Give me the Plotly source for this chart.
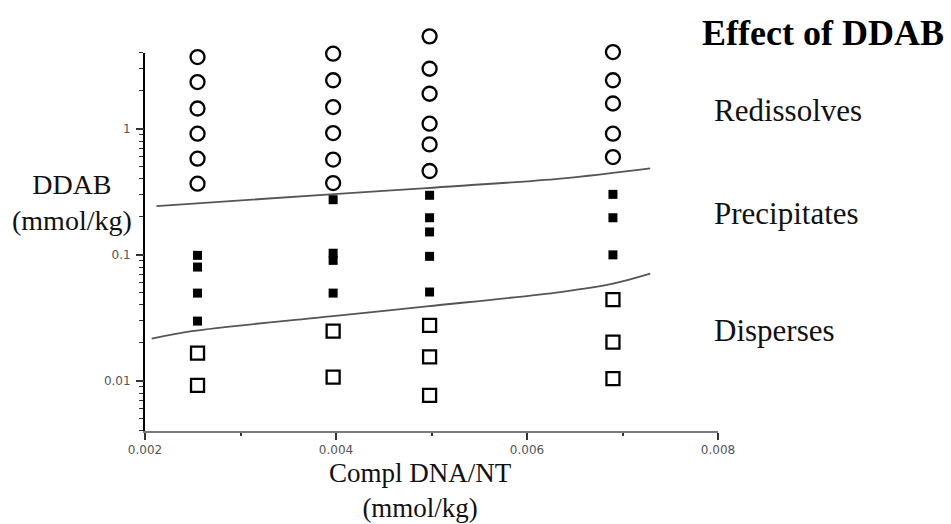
import plotly.graph_objects as go

# ---- data ----
redis_x = [0.00255]*6 + [0.00397]*6 + [0.00498]*6 + [0.0069]*5
redis_y = [3.71, 2.35, 1.45, 0.916, 0.580, 0.367,
           3.95, 2.43, 1.49, 0.926, 0.570, 0.371,
           5.42, 3.00, 1.90, 1.10, 0.753, 0.463,
           4.07, 2.43, 1.59, 0.916, 0.597]

precip_x = [0.00255]*4 + [0.00397]*4 + [0.00498]*5 + [0.0069]*3
precip_y = [0.0991, 0.080, 0.0497, 0.0298,
            0.274, 0.103, 0.0904, 0.0497,
            0.297, 0.197, 0.152, 0.0973, 0.0507,
            0.302, 0.197, 0.100]

disp_x = [0.00255]*2 + [0.00397]*2 + [0.00498]*3 + [0.0069]*3
disp_y = [0.0166, 0.0092,
          0.0248, 0.0107,
          0.0276, 0.0155, 0.00767,
          0.0441, 0.0203, 0.0104]

upper_x = [0.00212, 0.00394, 0.00495, 0.00635, 0.00729]
upper_y = [0.244, 0.302, 0.339, 0.403, 0.486]
lower_x = [0.00207, 0.00249, 0.00394, 0.00495, 0.00635, 0.0069, 0.00729]
lower_y = [0.0216, 0.0248, 0.0325, 0.0390, 0.0507, 0.0591, 0.0709]

x_ticks = [0.002, 0.004, 0.006, 0.008]
x_minor_ticks = [0.003, 0.005, 0.007]
y_ticks = [0.01, 0.1, 1]
y_tick_labels = ["0.01", "0.1", "1"]
y_minor_ticks = [0.004, 0.005, 0.006, 0.007, 0.008, 0.009,
                 0.02, 0.03, 0.04, 0.05, 0.06, 0.07, 0.08, 0.09,
                 0.2, 0.3, 0.4, 0.5, 0.6, 0.7, 0.8, 0.9,
                 2, 3, 4]

title_text = "<b>Effect of DDAB</b>"
region_labels = ["Redissolves", "Precipitates", "Disperses"]
x_title = "Compl DNA/NT<br>(mmol/kg)"
y_title = "DDAB<br>(mmol/kg)"

SERIF = "Liberation Serif, Times New Roman, serif"

# visible axis spans y in [0.004, 4]; a hidden twin axis with the same scale
# extends a little higher so that the topmost marker is not dropped
Y_LO, Y_HI = -2.398, 0.602
VIS_FRAC = 378 / 401
Y2_HI = Y_LO + (Y_HI - Y_LO) / VIS_FRAC

# all y ticks on the main axis (labels only on decades); decades get longer ticks
all_y_ticks = y_ticks + y_minor_ticks
all_y_text = y_tick_labels + [""] * len(y_minor_ticks)

fig = go.Figure()
fig.add_trace(go.Scatter(x=upper_x, y=upper_y, yaxis="y", mode="lines",
                         line=dict(color="#555555", width=1.8, shape="spline"),
                         hoverinfo="skip", showlegend=False))
fig.add_trace(go.Scatter(x=lower_x, y=lower_y, yaxis="y3", mode="lines",
                         line=dict(color="#555555", width=1.8, shape="spline"),
                         hoverinfo="skip", showlegend=False))
fig.add_trace(go.Scatter(x=redis_x, y=redis_y, yaxis="y2", mode="markers", cliponaxis=False,
                         marker=dict(symbol="circle-open", size=14, color="black",
                                     line=dict(color="black", width=2.3)),
                         showlegend=False))
fig.add_trace(go.Scatter(x=precip_x, y=precip_y, yaxis="y2", mode="markers", cliponaxis=False,
                         marker=dict(symbol="square", size=9, color="black"),
                         showlegend=False))
fig.add_trace(go.Scatter(x=disp_x, y=disp_y, yaxis="y2", mode="markers", cliponaxis=False,
                         marker=dict(symbol="square-open", size=13, color="black",
                                     line=dict(color="black", width=2.3)),
                         showlegend=False))

tickfont = dict(family="DejaVu Sans", size=12, color="#555")
fig.update_layout(
    width=951, height=524,
    margin=dict(l=145, r=233, t=30, b=93),
    paper_bgcolor="white", plot_bgcolor="rgba(0,0,0,0)",
    xaxis=dict(range=[0.002, 0.008], tickvals=x_ticks,
               tickformat=".3f", showgrid=False, zeroline=False, anchor="y",
               showline=True, linecolor="#7a7a7a", linewidth=2,
               ticks="outside", ticklen=7, tickwidth=1.5, tickcolor="#333",
               tickfont=tickfont,
               minor=dict(tickvals=x_minor_ticks, ticks="outside",
                          ticklen=3, tickwidth=1.5, tickcolor="#333")),
    yaxis=dict(type="log", range=[Y_LO, Y_HI], tickmode="array",
               tickvals=all_y_ticks, ticktext=all_y_text,
               domain=[0, VIS_FRAC],
               showgrid=False, zeroline=False, anchor="x",
               showline=True, linecolor="black", linewidth=2,
               ticks="outside", ticklen=4, tickwidth=1.3, tickcolor="#333",
               tickfont=tickfont, ticklabelstandoff=6),
    yaxis3=dict(type="log", range=[Y_LO, Y_HI], overlaying="y", anchor="x", side="left",
                tickmode="array", tickvals=y_ticks, showticklabels=False,
                showgrid=False, zeroline=False, showline=False,
                ticks="outside", ticklen=8, tickwidth=1.5, tickcolor="#333"),
    yaxis2=dict(type="log", range=[Y_LO, Y2_HI], domain=[0, 1], anchor="x",
                visible=False, showgrid=False, zeroline=False),
)

def py(p):
    return (431 - p) / 401

ann = [
    dict(text=title_text, x=0.9686, y=py(33), xanchor="left", yanchor="middle",
         font=dict(family=SERIF, size=36, color="black")),
    dict(text=region_labels[0], x=0.9895, y=py(110), xanchor="left", yanchor="middle",
         font=dict(family=SERIF, size=31, color="#111")),
    dict(text=region_labels[1], x=0.9895, y=py(213), xanchor="left", yanchor="middle",
         font=dict(family=SERIF, size=31, color="#111")),
    dict(text=region_labels[2], x=0.9895, y=py(330), xanchor="left", yanchor="middle",
         font=dict(family=SERIF, size=31, color="#111")),
    dict(text=y_title, x=-0.1274, y=py(202), xanchor="center", yanchor="middle",
         font=dict(family=SERIF, size=28, color="#111")),
    dict(text=x_title, x=0.48, y=py(490), xanchor="center", yanchor="middle",
         font=dict(family=SERIF, size=27, color="#111")),
]
for a in ann:
    fig.add_annotation(xref="paper", yref="paper", showarrow=False, **a)

fig.write_html("out.html")
